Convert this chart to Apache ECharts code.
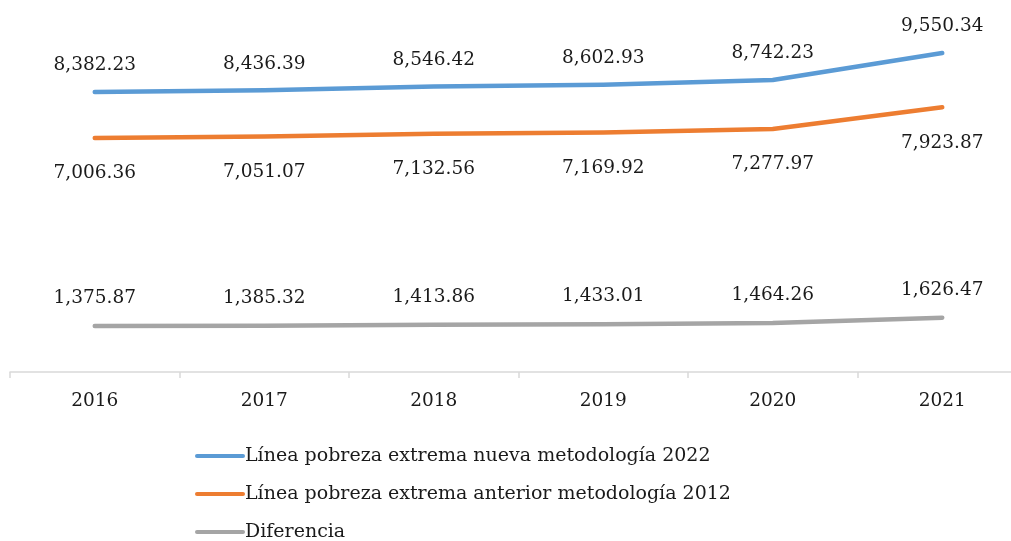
<!DOCTYPE html>
<html>
<head>
    <meta charset="utf-8">
    <style>
        body { margin: 0; background-color: #fff; }
        #main { width: 1011px; height: 541px; }
    </style>
</head>
<body>
    <div id="main"></div>
    <script src="https://cdn.jsdelivr.net/npm/echarts@6/dist/echarts.min.js"></script>
    <script type="text/javascript">
        var years = ['2016', '2017', '2018', '2019', '2020', '2021'];
        var nueva2022 = [8382.23, 8436.39, 8546.42, 8602.93, 8742.23, 9550.34];
        var anterior2012 = [7006.36, 7051.07, 7132.56, 7169.92, 7277.97, 7923.87];
        var diferencia = [1375.87, 1385.32, 1413.86, 1433.01, 1464.26, 1626.47];

        var fontFam = '"DejaVu Serif", serif';

        function fmt(p) {
            return p.value.toLocaleString('en-US', { minimumFractionDigits: 2, maximumFractionDigits: 2 });
        }

        function makeSeries(name, data, color, pos, dist) {
            return {
                name: name,
                type: 'line',
                data: data,
                symbol: 'circle',
                symbolSize: 0,
                itemStyle: { color: color },
                lineStyle: { color: color, width: 4.5, cap: 'round', join: 'round' },
                label: {
                    show: true,
                    position: pos,
                    distance: dist,
                    formatter: fmt,
                    color: '#1a1a1a',
                    fontFamily: fontFam,
                    fontSize: 18.5
                }
            };
        }

        // legend icon: short thick line with round ends
        var lineIcon = 'path://M2,0 L48,0 A2,2 0 0 1 48,4 L2,4 A2,2 0 0 1 2,0 Z';

        var myChart = echarts.init(document.getElementById('main'));
        myChart.setOption({
            animation: false,
            backgroundColor: '#fff',
            grid: { left: 10, top: 38, width: 1017, bottom: 169, outerBoundsMode: 'none', containLabel: false },
            legend: {
                orient: 'vertical',
                left: 190,
                top: 440,
                height: 200,
                icon: lineIcon,
                itemWidth: 50,
                itemHeight: 5,
                itemGap: 16,
                textStyle: { fontFamily: fontFam, fontSize: 19, color: '#1a1a1a', lineHeight: 22, padding: [0, 0, 0, -5] },
                data: ['Línea pobreza extrema nueva metodología 2022',
                       'Línea pobreza extrema anterior metodología 2012',
                       'Diferencia']
            },
            xAxis: {
                type: 'category',
                data: years,
                boundaryGap: true,
                axisLine: { lineStyle: { color: '#d9d9d9', width: 1.5 } },
                axisTick: { show: true, length: 6, lineStyle: { color: '#d9d9d9', width: 1.5 } },
                axisLabel: { color: '#1a1a1a', fontFamily: fontFam, fontSize: 18.5, margin: 20 }
            },
            yAxis: {
                type: 'value',
                min: 0,
                max: 10000,
                show: false,
                splitLine: { show: false }
            },
            series: [
                makeSeries('Línea pobreza extrema nueva metodología 2022', nueva2022, '#5B9BD5', 'top', 17),
                makeSeries('Línea pobreza extrema anterior metodología 2012', anterior2012, '#ED7D31', 'bottom', 26),
                makeSeries('Diferencia', diferencia, '#A5A5A5', 'top', 18)
            ]
        });
    </script>
</body>
</html>
